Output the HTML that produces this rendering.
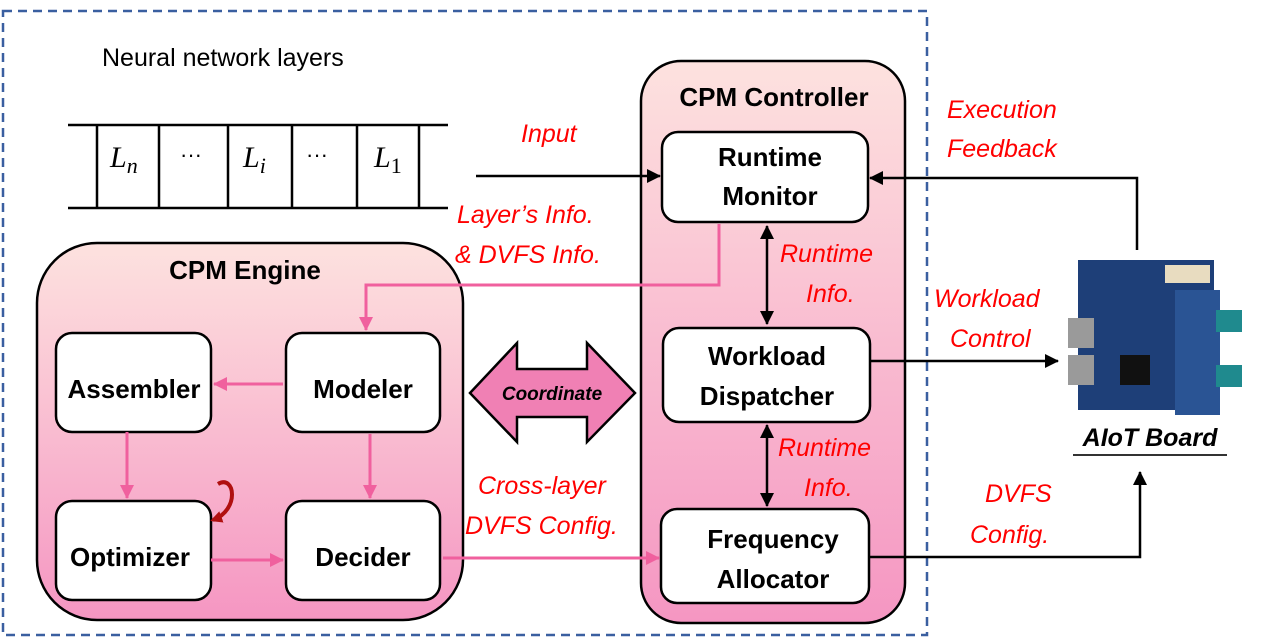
<!DOCTYPE html>
<html><head><meta charset="utf-8"><style>
html,body{margin:0;padding:0;background:#fff}
svg{display:block}
.b{font-family:"Liberation Sans",sans-serif;font-weight:bold;font-size:26px;fill:#000}
.r{font-family:"Liberation Sans",sans-serif;font-style:italic;font-size:25px;fill:#ff0000}
</style></head><body>
<svg width="1268" height="642" viewBox="0 0 1268 642" xmlns="http://www.w3.org/2000/svg">
<defs>
<linearGradient id="g" x1="0" y1="0" x2="0" y2="1">
<stop offset="0" stop-color="#fde2df"/><stop offset="1" stop-color="#f596c2"/></linearGradient>
<marker id="ab" markerWidth="14" markerHeight="14" refX="13" refY="7" orient="auto-start-reverse" markerUnits="userSpaceOnUse"><path d="M0,0 L14,7 L0,14z" fill="#000"/></marker>
<marker id="ap" markerWidth="14" markerHeight="14" refX="13" refY="7" orient="auto" markerUnits="userSpaceOnUse"><path d="M0,0 L14,7 L0,14z" fill="#f0609e"/></marker>
<marker id="ar" markerWidth="12" markerHeight="12" refX="9" refY="6" orient="auto" markerUnits="userSpaceOnUse"><path d="M0,0 L12,6 L0,12z" fill="#b01010"/></marker>
</defs>
<rect x="3" y="11" width="924" height="624" fill="none" stroke="#3a5fa0" stroke-width="2.5" stroke-dasharray="9,6"/>
<text x="102" y="66" font-family="Liberation Sans,sans-serif" font-size="25" fill="#000">Neural network layers</text>
<g stroke="#000" stroke-width="2.5">
<line x1="68" y1="125" x2="448" y2="125"/><line x1="68" y1="208" x2="448" y2="208"/>
<line x1="97" y1="125" x2="97" y2="208"/><line x1="159" y1="125" x2="159" y2="208"/><line x1="228" y1="125" x2="228" y2="208"/><line x1="292" y1="125" x2="292" y2="208"/><line x1="357" y1="125" x2="357" y2="208"/><line x1="419" y1="125" x2="419" y2="208"/>
</g>
<g font-family="Liberation Serif,serif" font-style="italic" font-size="30" fill="#000">
<text x="110" y="167">L<tspan font-size="22" dy="6">n</tspan></text>
<text x="243" y="167">L<tspan font-size="22" dy="6">i</tspan></text>
<text x="374" y="167">L<tspan font-size="22" dy="6" font-style="normal">1</tspan></text>
</g>
<text x="180" y="162" font-family="Liberation Sans,sans-serif" font-size="22">···</text>
<text x="306" y="162" font-family="Liberation Sans,sans-serif" font-size="22">···</text>
<rect x="37" y="243" width="426" height="377" rx="60" fill="url(#g)" stroke="#000" stroke-width="2.5"/>
<text class="b" x="245" y="279" text-anchor="middle">CPM Engine</text>
<rect x="641" y="61" width="264" height="562" rx="40" fill="url(#g)" stroke="#000" stroke-width="2.5"/>
<text class="b" x="774" y="106" text-anchor="middle">CPM Controller</text>
<g fill="#fff" stroke="#000" stroke-width="2.5">
<rect x="56" y="333" width="155" height="99" rx="16"/>
<rect x="286" y="333" width="154" height="99" rx="16"/>
<rect x="56" y="501" width="155" height="99" rx="16"/>
<rect x="286" y="501" width="154" height="99" rx="16"/>
<rect x="662" y="132" width="206" height="90" rx="16"/>
<rect x="663" y="328" width="207" height="94" rx="16"/>
<rect x="661" y="509" width="208" height="94" rx="16"/>
</g>
<text class="b" x="134" y="398" text-anchor="middle">Assembler</text>
<text class="b" x="363" y="398" text-anchor="middle">Modeler</text>
<text class="b" x="130" y="566" text-anchor="middle">Optimizer</text>
<text class="b" x="363" y="566" text-anchor="middle">Decider</text>
<text class="b" x="770" y="166" text-anchor="middle">Runtime</text>
<text class="b" x="770" y="205" text-anchor="middle">Monitor</text>
<text class="b" x="767" y="365" text-anchor="middle">Workload</text>
<text class="b" x="767" y="405" text-anchor="middle">Dispatcher</text>
<text class="b" x="773" y="548" text-anchor="middle">Frequency</text>
<text class="b" x="773" y="588" text-anchor="middle">Allocator</text>
<g stroke="#f0609e" stroke-width="3" fill="none">
<polyline points="719,224 719,285 366,285 366,330" marker-end="url(#ap)"/>
<line x1="283" y1="384" x2="214" y2="384" marker-end="url(#ap)"/>
<line x1="127" y1="432" x2="127" y2="498" marker-end="url(#ap)"/>
<line x1="370" y1="434" x2="370" y2="498" marker-end="url(#ap)"/>
<line x1="211" y1="560" x2="283" y2="560" marker-end="url(#ap)"/>
<line x1="443" y1="558" x2="659" y2="558" marker-end="url(#ap)"/>
</g>
<path d="M218,484 C235,474 240,510 213,520" stroke="#b01010" stroke-width="4" fill="none" marker-end="url(#ar)"/>
<path d="M470,393 L517,343 L517,369 L587,369 L587,343 L635,393 L587,442 L587,417 L517,417 L517,442 Z" fill="#f080b4" stroke="#000" stroke-width="2.5"/>
<text x="552" y="400" text-anchor="middle" font-family="Liberation Sans,sans-serif" font-weight="bold" font-style="italic" font-size="19">Coordinate</text>
<g stroke="#000" stroke-width="2.5" fill="none">
<line x1="476" y1="176" x2="660" y2="176" marker-end="url(#ab)"/>
<polyline points="1137,250 1137,178 870,178" marker-end="url(#ab)"/>
<line x1="767" y1="226" x2="767" y2="324" marker-start="url(#ab)" marker-end="url(#ab)"/>
<line x1="767" y1="425" x2="767" y2="506" marker-start="url(#ab)" marker-end="url(#ab)"/>
<line x1="870" y1="361" x2="1058" y2="361" marker-end="url(#ab)"/>
<polyline points="869,557 1140,557 1140,472" marker-end="url(#ab)"/>
</g>
<text class="r" x="521" y="142">Input</text>
<text class="r" x="457" y="223">Layer’s Info.</text>
<text class="r" x="455" y="263">&amp; DVFS Info.</text>
<text class="r" x="780" y="262">Runtime</text>
<text class="r" x="806" y="302">Info.</text>
<text class="r" x="778" y="456">Runtime</text>
<text class="r" x="804" y="496">Info.</text>
<text class="r" x="947" y="118">Execution</text>
<text class="r" x="947" y="157">Feedback</text>
<text class="r" x="934" y="307">Workload</text>
<text class="r" x="950" y="347">Control</text>
<text class="r" x="478" y="494">Cross-layer</text>
<text class="r" x="465" y="534">DVFS Config.</text>
<text class="r" x="985" y="502">DVFS</text>
<text class="r" x="970" y="543">Config.</text>
<rect x="1078" y="260" width="136" height="150" fill="#1e3f78"/>
<rect x="1175" y="290" width="45" height="125" fill="#2a5494"/>
<rect x="1216" y="310" width="26" height="22" fill="#1f8a8e"/>
<rect x="1216" y="365" width="26" height="22" fill="#1f8a8e"/>
<rect x="1068" y="318" width="26" height="30" fill="#9a9a9a"/>
<rect x="1068" y="355" width="26" height="30" fill="#9a9a9a"/>
<rect x="1120" y="355" width="30" height="30" fill="#111"/>
<rect x="1165" y="265" width="45" height="18" fill="#e8dcc0"/>
<text x="1150" y="446" text-anchor="middle" font-family="Liberation Sans,sans-serif" font-weight="bold" font-style="italic" font-size="25">AIoT Board</text>
<line x1="1073" y1="455" x2="1227" y2="455" stroke="#333" stroke-width="2"/>
</svg>
</body></html>
